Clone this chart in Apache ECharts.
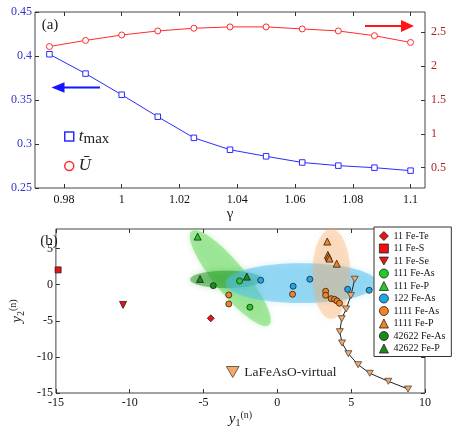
<!DOCTYPE html>
<html>
<head>
<meta charset="utf-8">
<script src="https://cdn.jsdelivr.net/npm/echarts@6/dist/echarts.min.js"></script>
<style>
html, body { margin: 0; padding: 0; background: #fff; }
#main { width: 463px; height: 429px; }
</style>
</head>
<body>
<div id="main"></div>
<script>
// ---- panel (a) ----
var gamma = [0.975, 0.9875, 1.0, 1.0125, 1.025, 1.0375, 1.05, 1.0625, 1.075, 1.0875, 1.1];
var tMax = [0.402, 0.380, 0.356, 0.331, 0.307, 0.2935, 0.286, 0.279, 0.2754, 0.2731, 0.2697];
var uMean = [2.29, 2.38, 2.46, 2.52, 2.56, 2.58, 2.58, 2.55, 2.52, 2.45, 2.35];
var gammaTicks = [0.98, 1, 1.02, 1.04, 1.06, 1.08, 1.1];
var uTicks = [0.5, 1, 1.5, 2, 2.5];

// ---- panel (b) ----
var fe11Te = [[-4.51, -4.66]];
var fe11S = [[-14.85, 2.04]];
var fe11Se = [[-10.45, -2.81]];
var fe111As = [[-2.56, 0.51], [-1.86, -3.13]];
var fe111P = [[-5.40, 6.65]];
var fe122As = [[-1.13, 0.61], [1.07, -0.22], [2.2, 0.75], [4.76, -0.64], [6.22, -0.78]];
var fe1111As = [[-3.29, -1.43], [-3.29, -2.67], [1.03, -1.33], [3.27, -0.92], [3.27, -1.47],
                [3.65, -1.94], [3.87, -2.03], [4.04, -2.26], [4.21, -2.58]];
var fe1111P = [[3.38, 5.96], [3.42, 4.12], [3.47, 3.85], [3.53, 3.6], [4.02, 2.9]];
var fe42622As = [[-4.34, -0.14]];
var fe42622P = [[-5.24, 0.79], [-2.07, 1.11]];
var virtualLaFeAsO = [[5.24, 0.75], [4.98, -1.52], [4.66, -3.37], [4.36, -4.71], [4.23, -6.51],
                      [4.38, -8.07], [4.81, -9.56], [5.47, -11.08], [6.26, -12.27], [7.52, -13.38], [8.85, -14.45]];
// cluster regions: centre x, centre y, half major axis (dx, dy), half minor axis (x units)
var regions = [
  [-3.19, 0.90, 2.62, -6.5, 1.05],
  [-3.46, 0.72, 2.45, 0, 0.59],
  [1.63, 0.21, 5.13, 0, 1.35],
  [3.65, 1.48, 0, 6.23, 1.28]
];
var yTicksB = [-15, -10, -5, 0, 5];

var FONT = 'Liberation Serif';
var downTri = 'path://M0,0L10,0L5,8.66Z';
var regionColors = ['rgba(95,215,85,0.5)', 'rgba(30,150,30,0.5)', 'rgba(80,190,235,0.5)', 'rgba(245,170,100,0.35)'];

function pairs(xs, ys) {
  return xs.map(function (x, i) { return [x, ys[i]]; });
}

var groups = [
  { name: '11 Fe-Te', data: fe11Te, symbol: 'diamond', color: '#ee1111', size: 7 },
  { name: '11 Fe-S', data: fe11S, symbol: 'rect', color: '#ee1111', size: 6 },
  { name: '11 Fe-Se', data: fe11Se, symbol: downTri, color: '#ee1111', size: 7 },
  { name: '111 Fe-As', data: fe111As, symbol: 'circle', color: '#22cc22', size: 6 },
  { name: '111 Fe-P', data: fe111P, symbol: 'triangle', color: '#22cc22', size: 7 },
  { name: '122 Fe-As', data: fe122As, symbol: 'circle', color: '#1ea6ea', size: 6 },
  { name: '1111 Fe-As', data: fe1111As, symbol: 'circle', color: '#f5821f', size: 6 },
  { name: '1111 Fe-P', data: fe1111P, symbol: 'triangle', color: '#f5821f', size: 7 },
  { name: '42622 Fe-As', data: fe42622As, symbol: 'circle', color: '#1a8a1a', size: 6 },
  { name: '42622 Fe-P', data: fe42622P, symbol: 'triangle', color: '#1a8a1a', size: 7 }
];

function tickAxis(extra) {
  var base = {
    type: 'value',
    axisLine: { show: false, onZero: false },
    splitLine: { show: false },
    axisTick: { inside: true, length: 4, lineStyle: { color: '#333' } },
    axisLabel: { fontFamily: FONT, fontSize: 12, color: '#111' }
  };
  for (var k in extra) {
    if (typeof extra[k] === 'object' && base[k] && !Array.isArray(extra[k])) {
      base[k] = Object.assign({}, base[k], extra[k]);
    } else {
      base[k] = extra[k];
    }
  }
  return base;
}

var subRich = {
  i: { fontFamily: FONT, fontStyle: 'italic', fontSize: 15, lineHeight: 18, color: '#222' },
  s: { fontFamily: FONT, fontSize: 10, lineHeight: 9, verticalAlign: 'bottom', color: '#222' },
  p: { fontFamily: FONT, fontSize: 10, lineHeight: 9, verticalAlign: 'top', color: '#222' }
};

var chart = echarts.init(document.getElementById('main'));

var series = [
  {
    name: 'tmax', type: 'line', xAxisIndex: 0, yAxisIndex: 0,
    data: pairs(gamma, tMax), symbol: 'rect', symbolSize: 5.5,
    itemStyle: { color: '#fff', borderColor: '#2b2bff', borderWidth: 1 },
    lineStyle: { color: '#2b2bff', width: 1 }
  },
  {
    name: 'U', type: 'line', xAxisIndex: 0, yAxisIndex: 1,
    data: pairs(gamma, uMean), symbol: 'circle', symbolSize: 6,
    itemStyle: { color: '#fff', borderColor: '#ff2b2b', borderWidth: 1 },
    lineStyle: { color: '#ff2b2b', width: 1 }
  },
  {
    name: 'regions', type: 'custom', xAxisIndex: 2, yAxisIndex: 2, z: 1,
    data: regions, encode: { x: 0, y: 1 }, silent: true,
    renderItem: function (params, api) {
      var cx = api.value(0), cy = api.value(1);
      var c = api.coord([cx, cy]);
      var t = api.coord([cx + api.value(2), cy + api.value(3)]);
      var ux = t[0] - c[0], uy = t[1] - c[1];
      var len = Math.sqrt(ux * ux + uy * uy);
      var b = api.size([api.value(4), 0])[0];
      var vx = -uy / len * b, vy = ux / len * b;
      var pts = [];
      for (var k = 0; k < 72; k++) {
        var a = k / 72 * Math.PI * 2;
        pts.push([c[0] + Math.cos(a) * ux + Math.sin(a) * vx, c[1] + Math.cos(a) * uy + Math.sin(a) * vy]);
      }
      var col = regionColors[params.dataIndex];
      return { type: 'polygon', shape: { points: pts }, style: { fill: col, shadowBlur: 6, shadowColor: col } };
    }
  },
  {
    name: 'LaFeAsO-virtual', type: 'line', xAxisIndex: 2, yAxisIndex: 2, z: 3,
    data: virtualLaFeAsO, symbol: downTri, symbolSize: [7, 6],
    itemStyle: { color: '#f7a766', borderColor: '#444', borderWidth: 0.8 },
    lineStyle: { color: '#222', width: 1 }
  }
];

groups.forEach(function (g) {
  series.push({
    name: g.name, type: 'scatter', xAxisIndex: 2, yAxisIndex: 2, z: 4,
    data: g.data, symbol: g.symbol, symbolSize: g.size,
    itemStyle: { color: g.color, borderColor: '#222', borderWidth: 0.8, opacity: 1 }
  });
});

chart.setOption({
  animation: false,
  backgroundColor: '#fff',
  textStyle: { fontFamily: FONT },
  grid: [
    { left: 35, top: 12, width: 390, height: 176, show: true, borderColor: '#444', borderWidth: 1 },
    { left: 35, top: 229, width: 390, height: 164, show: true, borderColor: '#444', borderWidth: 1 }
  ],
  xAxis: [
    tickAxis({
      gridIndex: 0, min: 0.97, max: 1.105,
      axisTick: { customValues: gammaTicks },
      axisLabel: { customValues: gammaTicks, margin: 6 },
      name: 'γ', nameLocation: 'middle', nameGap: 18,
      nameTextStyle: { fontFamily: FONT, fontSize: 15, color: '#222' }
    }),
    tickAxis({
      gridIndex: 0, position: 'top', min: 0.97, max: 1.105,
      axisTick: { customValues: gammaTicks },
      axisLabel: { show: false }
    }),
    tickAxis({
      gridIndex: 1, min: -15, max: 10, interval: 5,
      axisLabel: { margin: 4 },
      name: '{i|y}{s|1}{p|(n)}', nameLocation: 'middle', nameGap: 14,
      nameTextStyle: { rich: subRich }
    }),
    tickAxis({
      gridIndex: 1, position: 'top', min: -15, max: 10, interval: 5,
      axisLabel: { show: false }
    })
  ],
  yAxis: [
    tickAxis({
      gridIndex: 0, min: 0.25, max: 0.45, interval: 0.05,
      axisLabel: { color: '#3434c8', margin: 3 }
    }),
    tickAxis({
      gridIndex: 0, position: 'right', min: 0.2, max: 2.8,
      axisTick: { customValues: uTicks },
      axisLabel: { customValues: uTicks, color: '#b02424', margin: 6 }
    }),
    tickAxis({
      gridIndex: 1, min: -15, max: 7.7,
      axisTick: { customValues: yTicksB },
      axisLabel: { customValues: yTicksB, margin: 3 },
      name: '{i|y}{s|2}{p|(n)}', nameLocation: 'middle', nameGap: 20, nameRotate: 90,
      nameTextStyle: { rich: subRich }
    }),
    tickAxis({
      gridIndex: 1, position: 'right', min: -15, max: 7.7,
      axisTick: { customValues: yTicksB },
      axisLabel: { show: false }
    })
  ],
  legend: [
    {
      left: 59, top: 123, orient: 'vertical', itemGap: 11, itemWidth: 9, itemHeight: 9,
      selectedMode: false,
      data: [
        { name: 'tmax', icon: 'rect', itemStyle: { color: '#fff', borderColor: '#2b2bff', borderWidth: 1.5 } },
        { name: 'U', icon: 'circle', itemStyle: { color: '#fff', borderColor: '#ff2b2b', borderWidth: 1.5 } }
      ],
      formatter: function (n) { return n === 'tmax' ? '{it|t}{sub|max}' : '{it|Ū}'; },
      textStyle: {
        rich: {
          it: { fontFamily: FONT, fontStyle: 'italic', fontSize: 17, lineHeight: 20, color: '#222' },
          sub: { fontFamily: FONT, fontSize: 15, lineHeight: 15, verticalAlign: 'bottom', color: '#222' }
        }
      }
    },
    {
      left: 374, top: 227, orient: 'vertical', selectedMode: false,
      padding: [3, 6, 2, 5], itemGap: 0.5, itemWidth: 9, itemHeight: 9,
      backgroundColor: '#fff', borderColor: '#333', borderWidth: 1, z: 10,
      itemStyle: { borderColor: '#222', borderWidth: 0.8 },
      textStyle: { fontFamily: FONT, fontSize: 10, color: '#111', lineHeight: 12 },
      data: groups.map(function (g) { return g.name; })
    },
    {
      left: 221, top: 360, selectedMode: false, itemWidth: 13, itemHeight: 11, itemGap: 4,
      itemStyle: { borderColor: '#444', borderWidth: 0.8 },
      textStyle: { fontFamily: FONT, fontSize: 13.5, color: '#222' },
      data: [{ name: 'LaFeAsO-virtual', icon: downTri }]
    }
  ],
  graphic: [
    { type: 'line', shape: { x1: 100, y1: 87.5, x2: 62, y2: 87.5 }, style: { stroke: '#1515ff', lineWidth: 2 } },
    { type: 'polygon', shape: { points: [[51.5, 87.5], [64.5, 82.3], [64.5, 92.7]] }, style: { fill: '#1515ff' } },
    { type: 'line', shape: { x1: 365, y1: 26, x2: 403, y2: 26 }, style: { stroke: '#ff1515', lineWidth: 2 } },
    { type: 'polygon', shape: { points: [[414, 26], [401, 20], [401, 32]] }, style: { fill: '#ff1515' } },
    { type: 'text', style: { text: '(a)', x: 50, y: 25, align: 'center', verticalAlign: 'middle', fontFamily: FONT, fontSize: 15, fill: '#222' } },
    { type: 'text', style: { text: '(b)', x: 49, y: 241, align: 'center', verticalAlign: 'middle', fontFamily: FONT, fontSize: 15, fill: '#222' } }
  ],
  series: series
});
</script>
</body>
</html>
